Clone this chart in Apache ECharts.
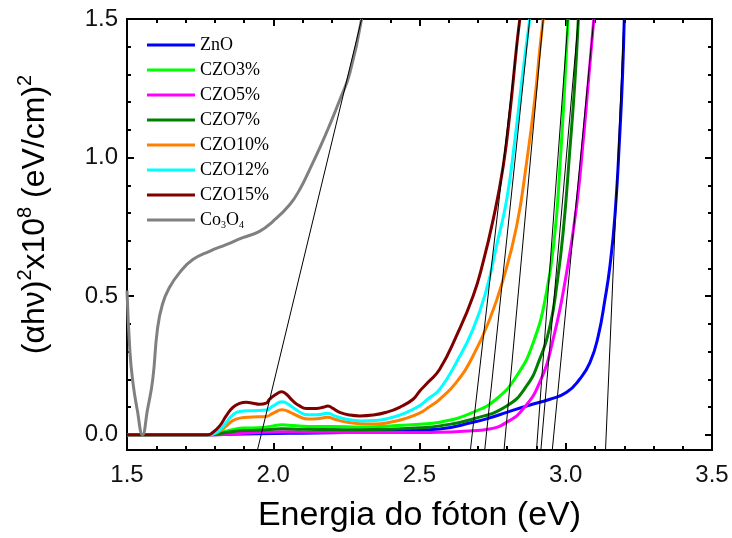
<!DOCTYPE html>
<html>
<head>
<meta charset="utf-8">
<script src="https://cdn.jsdelivr.net/npm/echarts@6/dist/echarts.min.js"></script>
<style>
  html, body { margin: 0; padding: 0; background: #fff; }
  #chart { width: 732px; height: 538px; }
</style>
</head>
<body>
<div id="chart"></div>
<script>
// Tauc plot: (alpha h nu)^2 vs photon energy for ZnO, Co-doped ZnO and Co3O4
const seriesNames = ['ZnO', 'CZO3%', 'CZO5%', 'CZO7%', 'CZO10%', 'CZO12%', 'CZO15%', 'Co3O4'];
const seriesColors = ['#0000ff', '#00ff00', '#ff00ff', '#008000', '#ff8000', '#00ffff', '#800000', '#808080'];

// [energy (eV), (alpha h nu)^2 x 1e8]
const zno = [[1.50,0],[1.78,0],[1.85,0.002],[1.95,0.004],[2.05,0.005],[2.15,0.006],[2.25,0.008],[2.35,0.011],[2.45,0.015],[2.569,0.021],[2.683,0.045],[2.75,0.064],[2.798,0.081],[2.889,0.111],[2.946,0.128],[3.003,0.153],[3.048,0.201],[3.083,0.261],[3.111,0.356],[3.134,0.488],[3.151,0.608],[3.168,0.788],[3.185,1.089],[3.194,1.292],[3.200,1.5]];
const czo3 = [[1.5,0],[1.78,0],[1.82,0.008],[1.86,0.018],[1.9,0.024],[1.95,0.025],[2.0,0.032],[2.03,0.036],[2.07,0.033],[2.12,0.030],[2.2,0.030],[2.3,0.028],[2.4,0.032],[2.5,0.038],[2.569,0.045],[2.683,0.081],[2.763,0.129],[2.832,0.212],[2.889,0.333],[2.934,0.513],[2.963,0.729],[2.98,0.968],[2.997,1.269],[3.008,1.5]];
const czo5 = [[1.5,0],[1.8,0],[1.87,0.004],[1.95,0.008],[2.03,0.011],[2.1,0.010],[2.2,0.009],[2.3,0.008],[2.4,0.008],[2.5,0.008],[2.569,0.009],[2.65,0.013],[2.74,0.021],[2.798,0.045],[2.854,0.093],[2.911,0.189],[2.957,0.345],[3.003,0.585],[3.037,0.824],[3.06,1.064],[3.077,1.269],[3.096,1.5]];
const czo7 = [[1.5,0],[1.78,0],[1.84,0.008],[1.9,0.015],[1.95,0.016],[2.03,0.022],[2.1,0.020],[2.2,0.019],[2.3,0.018],[2.4,0.020],[2.5,0.025],[2.569,0.032],[2.683,0.057],[2.798,0.104],[2.866,0.176],[2.911,0.273],[2.946,0.392],[2.969,0.536],[2.991,0.729],[3.014,1.028],[3.031,1.269],[3.043,1.5]];
const czo10 = [[1.5,0],[1.78,0],[1.80,0.004],[1.82,0.015],[1.84,0.032],[1.86,0.050],[1.885,0.060],[1.93,0.064],[1.975,0.066],[2.0,0.078],[2.03,0.090],[2.06,0.080],[2.09,0.065],[2.12,0.057],[2.15,0.058],[2.187,0.063],[2.21,0.056],[2.25,0.046],[2.3,0.040],[2.35,0.039],[2.4,0.045],[2.45,0.058],[2.5,0.078],[2.53,0.098],[2.569,0.128],[2.626,0.189],[2.683,0.284],[2.74,0.417],[2.786,0.560],[2.832,0.752],[2.866,0.981],[2.894,1.208],[2.911,1.388],[2.923,1.5]];
const czo12 = [[1.5,0],[1.78,0],[1.80,0.005],[1.82,0.020],[1.84,0.045],[1.86,0.070],[1.885,0.084],[1.93,0.087],[1.975,0.089],[2.0,0.104],[2.03,0.119],[2.06,0.104],[2.09,0.082],[2.12,0.072],[2.15,0.072],[2.187,0.078],[2.21,0.068],[2.25,0.056],[2.3,0.050],[2.35,0.051],[2.4,0.061],[2.45,0.078],[2.5,0.105],[2.53,0.130],[2.569,0.164],[2.626,0.261],[2.683,0.381],[2.729,0.524],[2.763,0.680],[2.798,0.848],[2.826,1.064],[2.849,1.269],[2.866,1.413],[2.877,1.5]];
const czo15 = [[1.5,0],[1.776,0],[1.794,0.009],[1.817,0.032],[1.839,0.068],[1.862,0.099],[1.885,0.113],[1.908,0.117],[1.93,0.114],[1.953,0.110],[1.976,0.114],[1.987,0.128],[2.01,0.146],[2.028,0.155],[2.045,0.146],[2.067,0.122],[2.09,0.104],[2.113,0.095],[2.147,0.095],[2.17,0.099],[2.187,0.104],[2.204,0.095],[2.227,0.081],[2.262,0.071],[2.296,0.068],[2.341,0.071],[2.387,0.081],[2.432,0.099],[2.478,0.128],[2.501,0.158],[2.53,0.190],[2.569,0.236],[2.626,0.356],[2.683,0.500],[2.717,0.621],[2.752,0.777],[2.786,0.968],[2.809,1.161],[2.832,1.400],[2.843,1.5]];
const co3o4 = [[1.5,0.52],[1.51,0.30],[1.52,0.19],[1.535,0.09],[1.553,0.0],[1.57,0.09],[1.588,0.20],[1.604,0.38],[1.621,0.47],[1.645,0.531],[1.68,0.585],[1.725,0.632],[1.782,0.662],[1.839,0.686],[1.896,0.711],[1.953,0.734],[1.999,0.770],[2.056,0.830],[2.09,0.884],[2.124,0.956],[2.159,1.035],[2.193,1.118],[2.227,1.207],[2.262,1.306],[2.302,1.5]];

// Linear extrapolation lines used to read the band gaps (endpoints)
const fitLines = [
  [[3.136,-0.055],[3.199,1.5]],
  [[2.900,-0.055],[3.008,1.5]],
  [[2.954,-0.055],[3.096,1.5]],
  [[2.915,-0.055],[3.043,1.5]],
  [[2.789,-0.055],[2.923,1.5]],
  [[2.723,-0.055],[2.877,1.5]],
  [[2.674,-0.055],[2.843,1.5]],
  [[1.946,-0.055],[2.302,1.5]]
];

// Axis ranges and ticks
const xRange = [1.5, 3.5];
const yRange = [-0.055, 1.5];
const yMajorTicks = [0, 0.5, 1.0, 1.5];
const yMinorTicks = [0.1, 0.2, 0.3, 0.4, 0.6, 0.7, 0.8, 0.9, 1.1, 1.2, 1.3, 1.4];

const curves = [zno, czo3, czo5, czo7, czo10, czo12, czo15, co3o4];

const chart = echarts.init(document.getElementById('chart'), null, { renderer: 'canvas' });

const sansFont = 'Liberation Sans, Arial, sans-serif';
const serifFont = 'Liberation Serif, Times New Roman, serif';
const frameLine = { show: true, onZero: false, lineStyle: { color: '#000', width: 2 } };
const labelFont = { fontFamily: sansFont, fontSize: 24, color: '#111' };

function yAxisDef(position, ticks, tickLen, withLabel) {
  return {
    type: 'value',
    position: position,
    min: yRange[0],
    max: yRange[1],
    axisLine: frameLine,
    splitLine: { show: false },
    axisTick: { show: true, inside: true, length: tickLen, customValues: ticks, lineStyle: { color: '#000', width: 2 } },
    axisLabel: withLabel
      ? Object.assign({ show: true, margin: 9, customValues: yMajorTicks, formatter: v => v.toFixed(1) }, labelFont)
      : { show: false }
  };
}

const yLeft = yAxisDef('left', yMajorTicks, 7, true);
yLeft.name = '(\u03b1h\u03bd){sup|2}x10{sup|8} (eV/cm){sup|2}';
yLeft.nameLocation = 'middle';
yLeft.nameGap = 72;
yLeft.nameTextStyle = {
  fontFamily: sansFont,
  fontSize: 32,
  lineHeight: 40,
  color: '#000',
  padding: [0, 0, 0, 40],
  rich: {
    sup: { fontFamily: sansFont, fontSize: 20, lineHeight: 20, verticalAlign: 'top', color: '#000' }
  }
};

function xAxisDef(position, withLabel) {
  return {
    type: 'value',
    position: position,
    min: xRange[0],
    max: xRange[1],
    interval: 0.5,
    axisLine: frameLine,
    splitLine: { show: false },
    minorSplitLine: { show: false },
    axisTick: { show: true, inside: true, length: 7, lineStyle: { color: '#000', width: 2 } },
    minorTick: { show: true, splitNumber: 5, length: 4, lineStyle: { color: '#000', width: 2 } },
    axisLabel: withLabel
      ? Object.assign({ show: true, margin: 13, formatter: v => v.toFixed(1) }, labelFont)
      : { show: false }
  };
}

const xBottom = xAxisDef('bottom', true);
xBottom.name = 'Energia do f\u00f3ton (eV)';
xBottom.nameLocation = 'middle';
xBottom.nameGap = 49;
xBottom.nameTextStyle = { fontFamily: sansFont, fontSize: 34, color: '#000' };

const dataSeries = curves.map((d, i) => ({
  name: seriesNames[i],
  type: 'line',
  data: d,
  showSymbol: false,
  smooth: 0.5,
  clip: true,
  z: 2 + i,
  itemStyle: { color: seriesColors[i] },
  lineStyle: { color: seriesColors[i], width: 3 }
}));

const fitSeries = fitLines.map((d, i) => ({
  name: 'fit' + i,
  type: 'line',
  data: d,
  showSymbol: false,
  silent: true,
  clip: true,
  z: 20,
  lineStyle: { color: '#000', width: 1 }
}));

const option = {
  animation: false,
  backgroundColor: '#fff',
  grid: { left: 127, right: 20, top: 19, bottom: 87, containLabel: false },
  xAxis: [xBottom, xAxisDef('top', false)],
  yAxis: [
    yLeft,
    yAxisDef('left', yMinorTicks, 4, false),
    yAxisDef('right', yMajorTicks, 7, false),
    yAxisDef('right', yMinorTicks, 4, false)
  ],
  legend: {
    data: seriesNames,
    orient: 'vertical',
    left: 142,
    top: 30,
    padding: 5,
    icon: 'rect',
    itemWidth: 48,
    itemHeight: 3,
    itemGap: 5,
    formatter: name => name === 'Co3O4' ? 'Co{sub|3}O{sub|4}' : name,
    textStyle: {
      fontFamily: serifFont,
      fontSize: 18,
      lineHeight: 20,
      color: '#000',
      rich: {
        sub: { fontFamily: serifFont, fontSize: 10, lineHeight: 10, verticalAlign: 'bottom', color: '#000' }
      }
    }
  },
  series: dataSeries.concat(fitSeries)
};

chart.setOption(option);
</script>
</body>
</html>
